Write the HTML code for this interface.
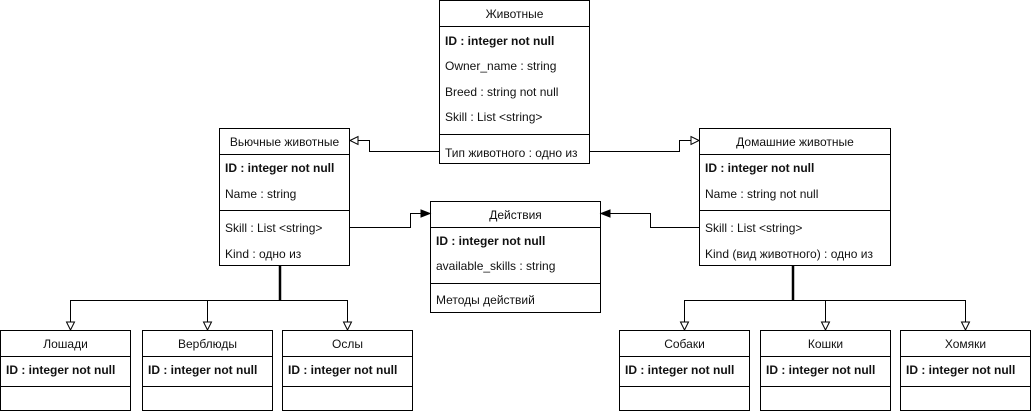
<!DOCTYPE html>
<html><head><meta charset="utf-8"><style>
html,body{margin:0;padding:0;background:#fff;}
svg{display:block;}
text{font-family:"Liberation Sans","DejaVu Sans",sans-serif;font-size:12px;fill:#111;}
.b{font-weight:bold;}
</style></head><body>
<svg width="1031" height="411" viewBox="0 0 1031 411" xmlns="http://www.w3.org/2000/svg">
<g fill="#fff" stroke="#000" stroke-width="1">
<!-- Animals -->
<rect x="439.5" y="0.5" width="150" height="163"/>
<line x1="439.5" y1="26.5" x2="589.5" y2="26.5"/>
<line x1="439.5" y1="134.5" x2="589.5" y2="134.5"/>
<!-- Вьючные -->
<rect x="219.5" y="128.5" width="130" height="137"/>
<line x1="219.5" y1="154.5" x2="349.5" y2="154.5"/>
<line x1="219.5" y1="210.5" x2="349.5" y2="210.5"/>
<!-- Домашние -->
<rect x="699.5" y="128.5" width="191" height="137"/>
<line x1="699.5" y1="154.5" x2="890.5" y2="154.5"/>
<line x1="699.5" y1="210.5" x2="890.5" y2="210.5"/>
<!-- Действия -->
<rect x="430.5" y="201.5" width="170" height="111"/>
<line x1="430.5" y1="227.5" x2="600.5" y2="227.5"/>
<line x1="430.5" y1="283.5" x2="600.5" y2="283.5"/>
<!-- bottom boxes -->
<rect x="0.5" y="330.5" width="130" height="80"/><line x1="0.5" y1="356.5" x2="130.5" y2="356.5"/><line x1="0.5" y1="386.5" x2="130.5" y2="386.5"/>
<rect x="142.5" y="330.5" width="130" height="80"/><line x1="142.5" y1="356.5" x2="272.5" y2="356.5"/><line x1="142.5" y1="386.5" x2="272.5" y2="386.5"/>
<rect x="282.5" y="330.5" width="130" height="80"/><line x1="282.5" y1="356.5" x2="412.5" y2="356.5"/><line x1="282.5" y1="386.5" x2="412.5" y2="386.5"/>
<rect x="619.5" y="330.5" width="130" height="80"/><line x1="619.5" y1="356.5" x2="749.5" y2="356.5"/><line x1="619.5" y1="386.5" x2="749.5" y2="386.5"/>
<rect x="760.5" y="330.5" width="130" height="80"/><line x1="760.5" y1="356.5" x2="890.5" y2="356.5"/><line x1="760.5" y1="386.5" x2="890.5" y2="386.5"/>
<rect x="900.5" y="330.5" width="130" height="80"/><line x1="900.5" y1="356.5" x2="1030.5" y2="356.5"/><line x1="900.5" y1="386.5" x2="1030.5" y2="386.5"/>
</g>
<!-- connectors -->
<g fill="none" stroke="#000" stroke-width="1">
<polyline points="439.5,151.5 369.5,151.5 369.5,140.5 357,140.5"/>
<polyline points="589.5,151.5 679.5,151.5 679.5,140.5 691,140.5"/>
<polyline points="349.5,227.5 410.5,227.5 410.5,213.5 422,213.5"/>
<polyline points="699.5,227.5 650.5,227.5 650.5,213.5 608,213.5"/>
<polyline points="70.5,322 70.5,300.5 347.5,300.5 347.5,322"/>
<line x1="207.5" y1="300.5" x2="207.5" y2="322"/>
<polyline points="684.5,322 684.5,300.5 965.5,300.5 965.5,322"/>
<line x1="825.5" y1="300.5" x2="825.5" y2="322"/>
</g>
<g stroke="#000" stroke-width="2.5">
<line x1="280" y1="266" x2="280" y2="301"/>
<line x1="793" y1="266" x2="793" y2="301"/>
</g>
<!-- arrowheads -->
<g fill="#fff" stroke="#000" stroke-width="1">
<polygon points="350,140.5 358,136.5 358,144.5"/>
<polygon points="699,140.5 691,136.5 691,144.5"/>
<polygon points="70.5,330 66.5,322 74.5,322"/>
<polygon points="207.5,330 203.5,322 211.5,322"/>
<polygon points="347.5,330 343.5,322 351.5,322"/>
<polygon points="684.5,330 680.5,322 688.5,322"/>
<polygon points="825.5,330 821.5,322 829.5,322"/>
<polygon points="965.5,330 961.5,322 969.5,322"/>
</g>
<g fill="#000" stroke="#000" stroke-width="1">
<polygon points="430,213.5 421,210 421,217"/>
<polygon points="601,213.5 610,210 610,217"/>
</g>
<!-- text -->
<text x="514.5" y="18" text-anchor="middle">Животные</text>
<text x="445" y="45" class="b">ID : integer not null</text>
<text x="445" y="70">Owner_name : string</text>
<text x="445" y="96">Breed : string not null</text>
<text x="445" y="121">Skill : List &lt;string&gt;</text>
<text x="445" y="157">Тип животного : одно из</text>

<text x="284.5" y="146" text-anchor="middle">Вьючные животные</text>
<text x="225" y="172" class="b">ID : integer not null</text>
<text x="225" y="198">Name : string</text>
<text x="225" y="232">Skill : List &lt;string&gt;</text>
<text x="225" y="258">Kind : одно из</text>

<text x="795" y="146" text-anchor="middle">Домашние животные</text>
<text x="705" y="172" class="b">ID : integer not null</text>
<text x="705" y="198">Name : string not null</text>
<text x="705" y="232">Skill : List &lt;string&gt;</text>
<text x="705" y="258">Kind (вид животного) : одно из</text>

<text x="515.5" y="219" text-anchor="middle">Действия</text>
<text x="436" y="245" class="b">ID : integer not null</text>
<text x="436" y="270">available_skills : string</text>
<text x="436" y="304">Методы действий</text>

<text x="65.5" y="348" text-anchor="middle">Лошади</text>
<text x="6" y="374" class="b">ID : integer not null</text>
<text x="207.5" y="348" text-anchor="middle">Верблюды</text>
<text x="148" y="374" class="b">ID : integer not null</text>
<text x="347.5" y="348" text-anchor="middle">Ослы</text>
<text x="288" y="374" class="b">ID : integer not null</text>
<text x="684.5" y="348" text-anchor="middle">Собаки</text>
<text x="625" y="374" class="b">ID : integer not null</text>
<text x="825.5" y="348" text-anchor="middle">Кошки</text>
<text x="766" y="374" class="b">ID : integer not null</text>
<text x="965.5" y="348" text-anchor="middle">Хомяки</text>
<text x="906" y="374" class="b">ID : integer not null</text>
</svg>
</body></html>
